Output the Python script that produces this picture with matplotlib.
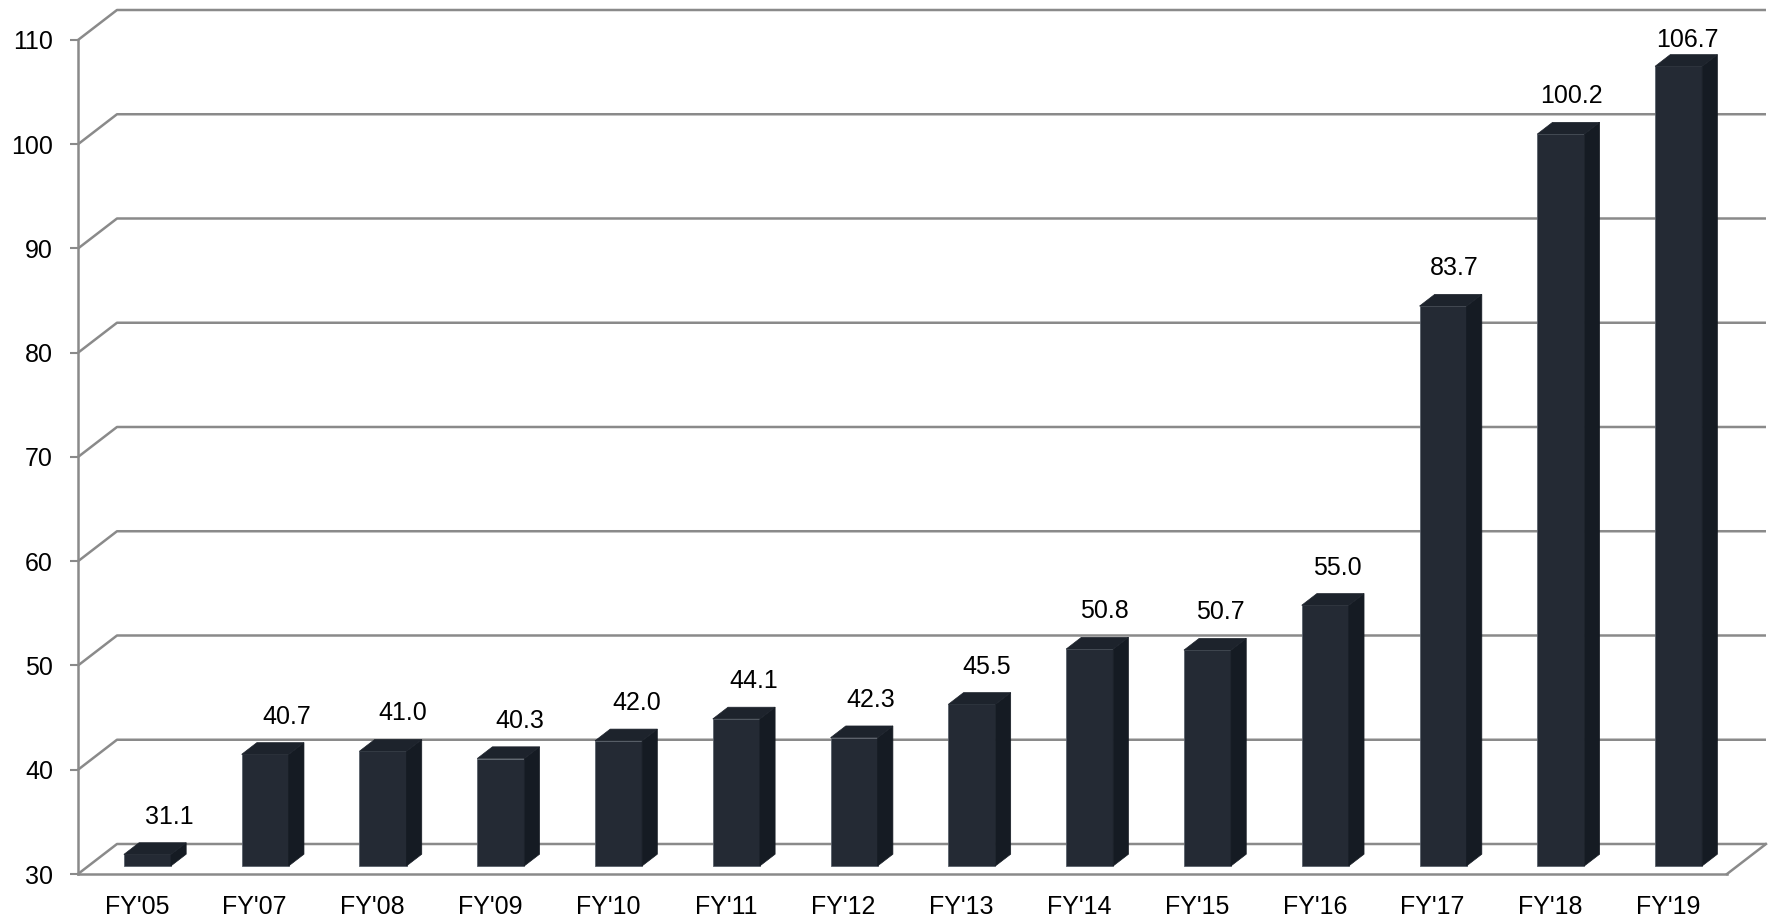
import matplotlib
matplotlib.use("Agg")
import matplotlib.pyplot as plt
from matplotlib.patches import Polygon

plt.rcParams['font.family'] = ['Liberation Sans', 'DejaVu Sans']

categories = ["FY'05", "FY'07", "FY'08", "FY'09", "FY'10", "FY'11", "FY'12",
              "FY'13", "FY'14", "FY'15", "FY'16", "FY'17", "FY'18", "FY'19"]
values = [31.1, 40.7, 41.0, 40.3, 42.0, 44.1, 42.3, 45.5, 50.8, 50.7, 55.0, 83.7, 100.2, 106.7]
yticks = [30, 40, 50, 60, 70, 80, 90, 100, 110]

Y0, Y1 = 30, 110
n = len(categories)

# oblique depth offsets (data units)
DX = 0.331
DY = 2.878
d0, d1 = 0.27, 0.66
half = 0.2

grid_c = '#8a8a8a'
front_c = '#242a34'
side_c = '#151b23'
top_c = '#1d232c'

fig = plt.figure(figsize=(17.74, 9.22), dpi=100)
ax = fig.add_axes([78/1774, 48/922, 1649/1774, 834/922])
ax.set_xlim(-0.5, n - 0.5)
ax.set_ylim(Y0, Y1)

# back wall gridlines and left wall diagonals
for v in yticks:
    ax.plot([-0.5, -0.5 + DX, n - 0.5 + DX], [v, v + DY, v + DY],
            color=grid_c, lw=1.8, clip_on=False, zorder=1, solid_capstyle='butt')
# floor front-right diagonal
ax.plot([n - 0.5, n - 0.5 + DX], [Y0, Y0 + DY], color=grid_c, lw=1.8, clip_on=False, zorder=1)

for i, v in enumerate(values):
    xl = i - half
    xr = i + half
    front = Polygon([(xl + d0*DX, Y0 + d0*DY), (xr + d0*DX, Y0 + d0*DY),
                     (xr + d0*DX, v + d0*DY), (xl + d0*DX, v + d0*DY)],
                    closed=True, facecolor=front_c, edgecolor='#5a616b', lw=0.6,
                    clip_on=False, zorder=3)
    side = Polygon([(xr + d0*DX, Y0 + d0*DY), (xr + d1*DX, Y0 + d1*DY),
                    (xr + d1*DX, v + d1*DY), (xr + d0*DX, v + d0*DY)],
                   closed=True, facecolor=side_c, edgecolor=side_c, lw=0.5,
                   clip_on=False, zorder=3)
    top = Polygon([(xl + d0*DX, v + d0*DY), (xr + d0*DX, v + d0*DY),
                   (xr + d1*DX, v + d1*DY), (xl + d1*DX, v + d1*DY)],
                  closed=True, facecolor=top_c, edgecolor=top_c, lw=0.5,
                  clip_on=False, zorder=3)
    for p in (front, side, top):
        ax.add_patch(p)
    lx = i + 0.21 + (8 - 1.0 * i) / 117.8
    ly = min(v + 4.4, Y1)
    ax.text(lx, ly, f"{v:.1f}", ha='center', va='center',
            fontsize=18, color='black', zorder=4, clip_on=False)

ax.set_xticks(range(n))
ax.set_xticklabels(categories, fontsize=18)
ax.set_yticks(yticks)
ax.set_yticklabels([str(t) for t in yticks], fontsize=18)
ax.tick_params(axis='x', length=0, pad=15)
ax.tick_params(axis='y', length=6, width=1.5, color=grid_c, pad=12, direction='out')

for s in ['top', 'right']:
    ax.spines[s].set_visible(False)
for s in ['left', 'bottom']:
    ax.spines[s].set_color(grid_c)
    ax.spines[s].set_linewidth(1.8)
    ax.spines[s].set_zorder(2)
ax.set_facecolor('none')
fig.patch.set_facecolor('white')

fig.savefig('out.png', dpi=100)
